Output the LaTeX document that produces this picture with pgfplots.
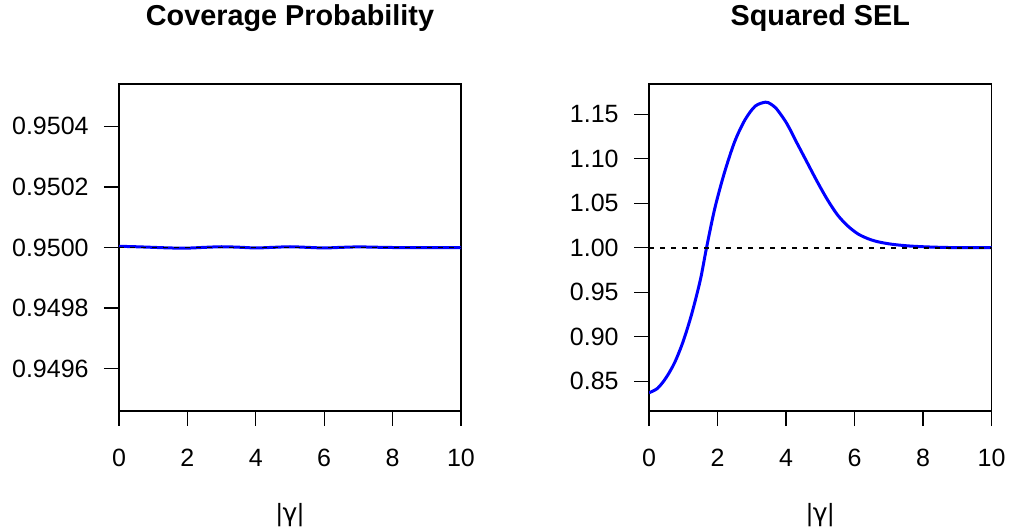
\documentclass[border=0pt]{standalone}
\usepackage{fontspec}
\setmainfont{Liberation Sans}
\newfontfamily\greekfont{DejaVu Sans}
\usepackage{pgfplots}
\pgfplotsset{compat=1.18}
\begin{document}
\begin{tikzpicture}
\path[use as bounding box] (0pt,0pt) rectangle (505pt,265.5pt);
\pgfplotsset{
  rpanel/.style={
    scale only axis, width=171pt, height=163.5pt, anchor=south west,
    xmin=0, xmax=10, xtick={0,2,...,10},
    tick align=outside, xtick pos=bottom, ytick pos=left,
    major tick length=7.5pt,
    axis line style={line width=0.6pt},
    every tick/.style={line width=0.6pt, black},
    /pgf/number format/assume math mode=true,
    scaled y ticks=false,
    tick label style={font=\fontsize{12.5}{14}\selectfont, inner sep=0pt},
    xticklabel style={anchor=base, yshift=-20.3pt},
    yticklabel style={anchor=east, xshift=-7.5pt},
    title style={at={(0.5,1)}, anchor=base, yshift=23.2pt,
      font=\bfseries\fontsize{14.4}{17}\selectfont},
    xlabel style={at={(0.5,0)}, anchor=base, yshift=-55.3pt,
      font=\fontsize{12.5}{14}\selectfont},
    xlabel={|{\greekfont γ}|},
  },
  curve/.style={blue, line width=1.5pt, smooth},
  ref/.style={black, line width=0.9pt, dash pattern=on 2.5pt off 3pt},
}

\begin{axis}[rpanel, at={(59.5pt,60pt)},
  title={Coverage Probability},
  ymin=0.94946, ymax=0.95054,
  ytick={0.9496,0.9498,0.9500,0.9502,0.9504},
  yticklabel style={/pgf/number format/.cd, fixed, fixed zerofill, precision=4},
]
\addplot[curve] coordinates {
  (0,0.950004) (0.5,0.9500025) (1,0.9500005) (1.5,0.9499985) (2,0.949998)
  (2.5,0.9500005) (3,0.9500025) (3.5,0.950001) (4,0.9499985) (4.5,0.9500005)
  (5,0.9500025) (5.5,0.9500005) (6,0.9499985) (6.5,0.9500005) (7,0.950002)
  (7.5,0.950001) (8,0.95) (9,0.95) (10,0.95)
};
\addplot[ref] coordinates {(0,0.95) (10,0.95)};
\end{axis}

\begin{axis}[rpanel, at={(324.5pt,60pt)}, width=171.25pt,
  title={Squared SEL},
  ymin=0.8165, ymax=1.1839,
  ytick={0.85,0.90,0.95,1.00,1.05,1.10,1.15},
  yticklabel style={/pgf/number format/.cd, fixed, fixed zerofill, precision=2},
]
\addplot[curve] coordinates {
  (0,0.837) (0.25,0.842) (0.5,0.854) (0.75,0.871) (1.0,0.895) (1.25,0.926)
  (1.5,0.964) (1.68,1.000) (1.92,1.044) (2.2,1.084) (2.5,1.119) (2.8,1.1435)
  (3.1,1.159) (3.4,1.1635) (3.55,1.1615) (3.7,1.157) (3.85,1.1495) (4.0,1.141)
  (4.15,1.1305) (4.3,1.119) (4.45,1.108) (4.6,1.097)
  (4.9,1.075) (5.2,1.0545) (5.5,1.037) (5.8,1.0245) (6.1,1.0155) (6.4,1.010)
  (6.7,1.0065) (7.1,1.0038) (7.6,1.0019) (8.1,1.0009) (8.6,1.0003) (9.0,1.0001)
  (10,1.0)
};
\addplot[ref] coordinates {(0,1) (10,1)};
\end{axis}
\end{tikzpicture}
\end{document}
